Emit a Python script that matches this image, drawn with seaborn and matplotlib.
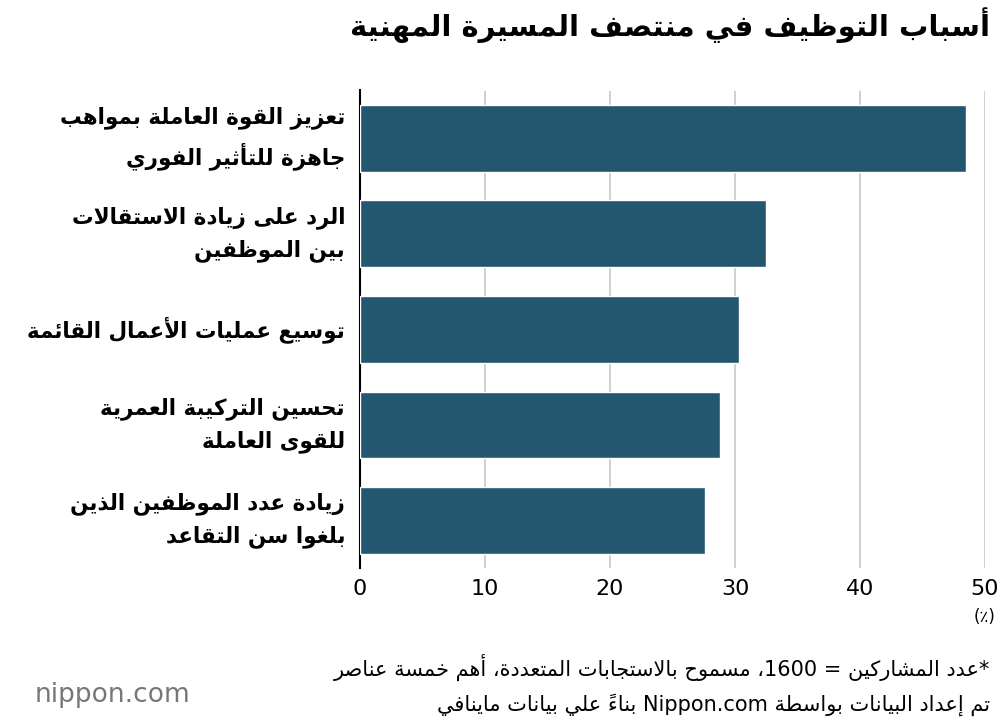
import re
import matplotlib
matplotlib.use("Agg")
import matplotlib.pyplot as plt
import pandas as pd
import seaborn as sns

# data
labels = [
    "تعزيز القوة العاملة بمواهب\nجاهزة للتأثير الفوري",
    "الرد على زيادة الاستقالات\nبين الموظفين",
    "توسيع عمليات الأعمال القائمة",
    "تحسين التركيبة العمرية\nللقوى العاملة",
    "زيادة عدد الموظفين الذين\nبلغوا سن التقاعد",
]
values = [48.5, 32.5, 30.3, 28.8, 27.6]
xticks = [0, 10, 20, 30, 40, 50]
title = "أسباب التوظيف في منتصف المسيرة المهنية"
unit = "(٪)"
notes = [
    "*عدد المشاركين = 1600، مسموح بالاستجابات المتعددة، أهم خمسة عناصر",
    "تم إعداد البيانات بواسطة Nippon.com بناءً علي بيانات ماينافي",
]

# minimal arabic shaping (matplotlib has none)
_nforms = [1, 2, 2, 2, 2, 4, 2, 4, 2, 4, 4, 4, 4, 4, 2, 2, 2, 2, 4, 4, 4, 4, 4, 4, 4, 4]
_chars = [chr(c) for c in range(0x0621, 0x063B)] + [chr(c) for c in range(0x0641, 0x064B)]
_nforms += [4, 4, 4, 4, 4, 4, 4, 2, 2, 4]
FORMS = {}
base = 0xFE80
for ch, n in zip(_chars, _nforms):
    FORMS[ch] = (base, n)
    base += n
LAMALEF = {"ا": 0xFEFB, "أ": 0xFEF7, "إ": 0xFEF9, "آ": 0xFEF5}
MARKS = set(chr(c) for c in range(0x064B, 0x0656))


def shape_line(s):
    # merge lam-alef
    units = []
    i = 0
    while i < len(s):
        c = s[i]
        if c == "ل" and i + 1 < len(s) and s[i + 1] in LAMALEF:
            units.append(("LA", LAMALEF[s[i + 1]]))
            i += 2
        else:
            units.append(("C", c))
            i += 1

    def nf(u):
        if u[0] == "LA":
            return 2
        return FORMS[u[1]][1] if u[1] in FORMS else 0

    letters = [k for k, u in enumerate(units) if not (u[0] == "C" and u[1] in MARKS)]
    out = [u[1] if u[0] == "C" else None for u in units]
    for idx, k in enumerate(letters):
        u = units[k]
        n = nf(u)
        if n == 0:
            continue
        prev = units[letters[idx - 1]] if idx > 0 else None
        nxt = units[letters[idx + 1]] if idx + 1 < len(letters) else None
        jp = prev is not None and nf(prev) == 4
        jn = n == 4 and nxt is not None and nf(nxt) >= 1 and nf(nxt) != 1
        if u[0] == "LA":
            out[k] = chr(u[1] + (1 if jp else 0))
            continue
        b = FORMS[u[1]][0]
        if n == 1:
            f = 0
        elif n == 2:
            f = 1 if jp else 0
        else:
            f = {(False, False): 0, (True, False): 1, (False, True): 2, (True, True): 3}[(jp, jn)]
        out[k] = chr(b + f)
    txt = "".join(out)[::-1]
    txt = txt.translate(str.maketrans("()", ")("))
    txt = re.sub(r"[A-Za-z0-9][A-Za-z0-9.]*[A-Za-z0-9]|[A-Za-z0-9]", lambda m: m.group(0)[::-1], txt)
    return txt


def ar(s):
    return "\n".join(shape_line(line) for line in s.split("\n"))


sns.set_theme(style="white")
plt.rcParams["font.family"] = ["DejaVu Sans"]
plt.rcParams["text.color"] = "black"

df = pd.DataFrame({"label": labels, "value": values})
fig = plt.figure(figsize=(10, 7.24), dpi=100)
ax = fig.add_axes([0.36, 0.215, 0.625, 0.66])
sns.barplot(data=df, x="value", y="label", color="#23566f", saturation=1, width=0.7, ax=ax, zorder=3)
ax.set_xlim(0, 50)
ax.set_xticks(xticks)
ax.set_xticklabels([str(t) for t in xticks], fontsize=16, color="black")
ax.tick_params(axis="x", length=0, pad=8)
ax.set_yticks([])
ax.set_xlabel("")
ax.set_ylabel("")
for sp in ["top", "right", "bottom"]:
    ax.spines[sp].set_visible(False)
ax.spines["left"].set_color("black")
ax.spines["left"].set_linewidth(1.5)
ax.grid(axis="x", color="#cccccc", linewidth=1.3, zorder=0)
ax.set_axisbelow(True)

for i, lab in enumerate(labels):
    ax.text(-1.2, i, ar(lab), ha="right", va="center", multialignment="right",
            fontsize=15.5, fontweight="bold", linespacing=1.6)

fig.text(0.99, 0.965, ar(title), ha="right", va="center", fontsize=21, fontweight="bold")
fig.text(0.985, 0.148, ar(unit), ha="center", va="center", fontsize=12)
fig.text(0.99, 0.078, ar(notes[0]), ha="right", va="center", fontsize=15)
fig.text(0.99, 0.027, ar(notes[1]), ha="right", va="center", fontsize=15)
fig.text(0.035, 0.04, "nippon.com", ha="left", va="center", fontsize=19, color="#777777")

fig.savefig("out.png", dpi=100)
